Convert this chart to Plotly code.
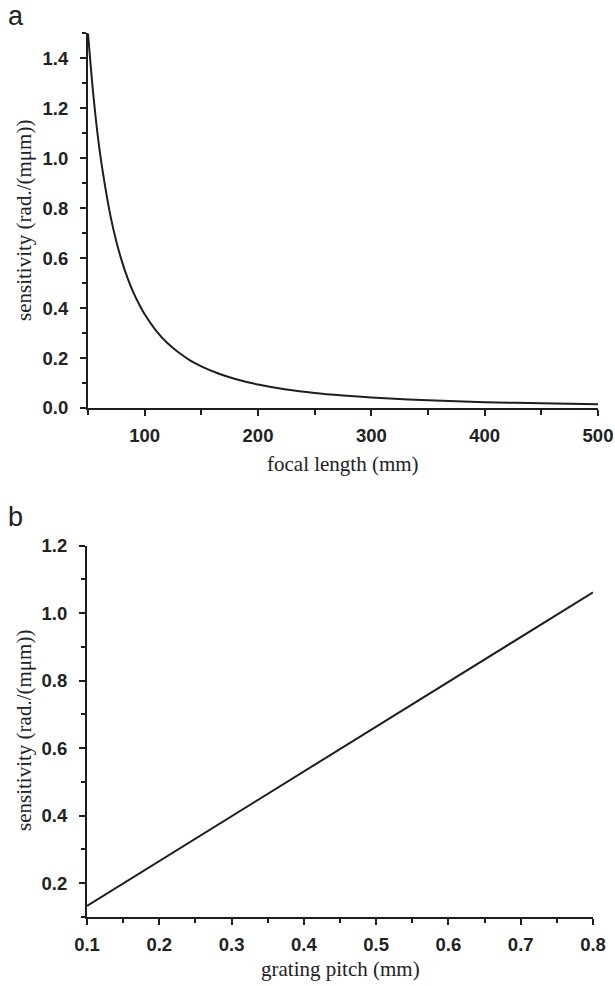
import plotly.graph_objects as go

# Panel a: sensitivity vs focal length
focal_mm = [50, 55, 60, 65, 70, 75, 80, 85, 90, 95, 100, 110, 120, 130, 140, 150,
            165, 180, 200, 225, 250, 275, 300, 350, 400, 450, 500]
sens_a = [1.50, 1.24, 1.04, 0.89, 0.765, 0.667, 0.586, 0.519, 0.463, 0.416, 0.375,
          0.310, 0.260, 0.222, 0.191, 0.167, 0.138, 0.116, 0.094, 0.074, 0.060,
          0.050, 0.042, 0.031, 0.023, 0.019, 0.015]

# Panel b: sensitivity vs grating pitch
pitch_mm = [0.1, 0.8]
sens_b = [0.133, 1.062]

xticks_a = [100, 200, 300, 400, 500]
yticks_a = [0.0, 0.2, 0.4, 0.6, 0.8, 1.0, 1.2, 1.4]
xticks_b = [0.1, 0.2, 0.3, 0.4, 0.5, 0.6, 0.7, 0.8]
yticks_b = [0.2, 0.4, 0.6, 0.8, 1.0, 1.2]

W, H = 615, 986
INK = "#1e1e1e"
TXT = "#222222"

def px_x(p):
    return p / W

def px_y(p):
    return 1 - p / H

fig = go.Figure()
fig.add_trace(go.Scatter(x=focal_mm, y=sens_a, mode="lines", line=dict(color=INK, width=2, shape="spline"),
                         xaxis="x", yaxis="y", showlegend=False))
fig.add_trace(go.Scatter(x=pitch_mm, y=sens_b, mode="lines", line=dict(color=INK, width=2),
                         xaxis="x2", yaxis="y2", showlegend=False))

tickfont = dict(family="Liberation Sans", size=18.5, color=TXT, weight="bold")
common = dict(showgrid=False, zeroline=False, showline=True, linecolor=INK, linewidth=2,
              ticks="outside", ticklen=6, tickwidth=1.5, tickcolor=INK, tickfont=tickfont,
              automargin=False)

fig.update_layout(
    template="none",
    width=W, height=H, margin=dict(l=0, r=0, t=0, b=0, autoexpand=False),
    paper_bgcolor="white", plot_bgcolor="white",
    xaxis=dict(domain=[px_x(88), px_x(598)], anchor="y", range=[50, 500],
               tickvals=xticks_a, ticklabelstandoff=4,
               minor=dict(ticks="outside", ticklen=5, tickwidth=1.5, tickcolor=INK, dtick=50, tick0=0, showgrid=False),
               **common),
    yaxis=dict(domain=[px_y(408), px_y(33.3)], anchor="x", range=[0, 1.5],
               tickvals=yticks_a, tickformat=".1f", ticklabelstandoff=8,
               minor=dict(ticks="outside", ticklen=4, tickwidth=1.5, tickcolor=INK, dtick=0.1, tick0=0, showgrid=False),
               **common),
    xaxis2=dict(domain=[px_x(87), px_x(593)], anchor="y2", range=[0.1, 0.8],
                tickvals=xticks_b, tickformat=".1f", ticklabelstandoff=4,
                minor=dict(ticks="outside", ticklen=4, tickwidth=1.5, tickcolor=INK, dtick=0.05, tick0=0, showgrid=False),
                **common),
    yaxis2=dict(domain=[px_y(917), px_y(545.7)], anchor="x2", range=[0.1, 1.2],
                tickvals=yticks_b, tickformat=".1f", ticklabelstandoff=8,
                minor=dict(ticks="outside", ticklen=4, tickwidth=1.5, tickcolor=INK, dtick=0.1, tick0=0, showgrid=False),
                **common),
)

serif = dict(family="Liberation Serif", size=21, color=TXT)
ann = [
    dict(text="a", x=px_x(6), y=px_y(16), xanchor="left", yanchor="middle",
         font=dict(family="Liberation Sans", size=27, color=TXT)),
    dict(text="b", x=px_x(6), y=px_y(517), xanchor="left", yanchor="middle",
         font=dict(family="Liberation Sans", size=27, color=TXT)),
    dict(text="focal length (mm)", x=px_x(343), y=px_y(464), xanchor="center", yanchor="middle", font=serif),
    dict(text="grating pitch (mm)", x=px_x(340), y=px_y(969), xanchor="center", yanchor="middle", font=serif),
    dict(text="sensitivity (rad./(mμm))", x=px_x(24), y=px_y(221), textangle=-90,
         xanchor="center", yanchor="middle", font=serif),
    dict(text="sensitivity (rad./(mμm))", x=px_x(24), y=px_y(731), textangle=-90,
         xanchor="center", yanchor="middle", font=serif),
]
for a in ann:
    a.update(xref="paper", yref="paper", showarrow=False)
fig.update_layout(annotations=ann)

fig.write_html("out.html")
